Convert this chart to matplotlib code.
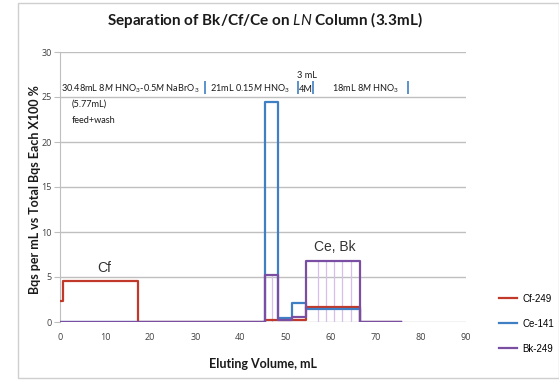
import matplotlib
matplotlib.use("Agg")
import matplotlib.pyplot as plt
from matplotlib.patches import Rectangle

# ---- data (step edges, post) ----
cf_x = [0, 0.7, 17.3, 45.4, 54.6, 66.4, 75.6]
cf_y = [2.3, 4.6, 0.0, 0.2, 1.65, 0.0, 0.0]
ce_x = [0, 45.4, 48.3, 51.5, 54.6, 66.4, 75.6]
ce_y = [0.0, 24.5, 0.4, 2.1, 1.4, 0.0, 0.0]
bk_x = [0, 45.4, 48.3, 51.5, 54.6, 66.4, 75.6]
bk_y = [0.0, 5.25, 0.25, 0.55, 6.75, 0.0, 0.0]
bk_fraction_x = [47.1, 57.1, 59.0, 60.8, 62.6, 64.5]
bk_fraction_top = [5.25, 6.75, 6.75, 6.75, 6.75, 6.75]
series_names = ["Cf-249", "Ce-141", "Bk-249"]
xticks = list(range(0, 100, 10))
yticks = list(range(0, 35, 5))
separators_x = [32.2, 52.7, 56.1, 77.1]

plt.rcParams['mathtext.fontset'] = 'custom'
plt.rcParams['mathtext.rm'] = 'Lato'
plt.rcParams['mathtext.it'] = 'Lato:italic'
plt.rcParams['mathtext.bf'] = 'Lato:bold'

W, H = 559, 387
fig = plt.figure(figsize=(W / 100, H / 100), dpi=100)
fig.patch.set_facecolor('white')

# outer Excel-like frame
fig.add_artist(Rectangle((18 / W, 1 - 378 / H), (W - 18) / W, (378 - 3) / H,
                         transform=fig.transFigure, fill=False,
                         edgecolor='#cfcfcf', linewidth=1.0))

ax = fig.add_axes([60 / W, 1 - 322 / H, (466 - 60) / W, (322 - 52) / H])
ax.set_xlim(0, 90)
ax.set_ylim(0, 30)
ax.set_xticks(xticks)
ax.set_yticks(yticks)
ax.grid(axis='y', color='#bfbfbf', linewidth=1.0)
ax.set_axisbelow(True)
for s in ['top', 'right', 'bottom']:
    ax.spines[s].set_visible(False)
ax.spines['left'].set_color('#bfbfbf')
ax.tick_params(axis='y', length=4, color='#bfbfbf', labelsize=6.5,
               labelcolor='#404040', pad=2)
ax.tick_params(axis='x', length=0, labelsize=6.5, labelcolor='#404040', pad=8)
for lab in ax.get_xticklabels() + ax.get_yticklabels():
    lab.set_fontfamily('Open Sans')

red = '#c0392b'
blue = '#3f7fc4'
purple = '#7a4fa3'

for xv, top in zip(bk_fraction_x, bk_fraction_top):
    ax.vlines(xv, 0, top, color='#d6bfe8', linewidth=0.9, zorder=2)

l1, = ax.step(cf_x, cf_y, where='post', color=red, linewidth=1.6, zorder=3)
l2, = ax.step(ce_x, ce_y, where='post', color=blue, linewidth=1.6, zorder=4)
l3, = ax.step(bk_x, bk_y, where='post', color=purple, linewidth=1.6, zorder=5)

ax.text(8.3, 5.5, 'Cf', fontsize=10, family='Liberation Sans', color='#333333')
ax.text(56.3, 7.9, 'Ce, Bk', fontsize=10, family='Liberation Sans', color='#333333')

tk = dict(fontsize=6.6, family='Lato', color='#1a1a1a', va='baseline')
ax.text(0.3, 25.6, r'30.48mL 8$\it{M}$ HNO$_3$-0.5$\it{M}$ NaBrO$_3$', **tk)
ax.text(33.3, 25.6, r'21mL 0.15$\it{M}$ HNO$_3$', **tk)
ax.text(52.9, 25.6, r'4M', **tk)
ax.text(52.6, 27.1, '3 mL', **tk)
ax.text(60.2, 25.6, r'18mL 8$\it{M}$ HNO$_3$', **tk)
ax.text(2.6, 23.9, '(5.77mL)', **tk)
ax.text(2.6, 22.1, 'feed+wash', **tk)
for sx in separators_x:
    ax.vlines(sx, 25.3, 26.8, color=blue, linewidth=1.2, zorder=6)

fig.text(265 / W, 1 - 20 / H, r'Separation of Bk/Cf/Ce on $\it{LN}$ Column (3.3mL)',
         ha='center', va='center', fontsize=11, family='Lato', weight='bold',
         color='#1a1a1a')
fig.text(263 / W, 1 - 364 / H, 'Eluting Volume, mL', ha='center', va='center',
         fontsize=9, family='Lato', weight='bold', color='#1a1a1a')
fig.text(35 / W, 1 - 190 / H, 'Bqs per mL vs Total Bqs Each X100 %', ha='center',
         va='center', rotation=90, fontsize=9, family='Lato', weight='bold',
         color='#1a1a1a')

fig.legend([l1, l2, l3], series_names, loc='upper left',
           bbox_to_anchor=(490 / W, 1 - 285 / H), frameon=False,
           prop={'family': 'Liberation Sans', 'size': 7.0},
           handlelength=1.9, handletextpad=0.5, labelspacing=1.55)

fig.savefig('out.png', dpi=100, facecolor='white')
